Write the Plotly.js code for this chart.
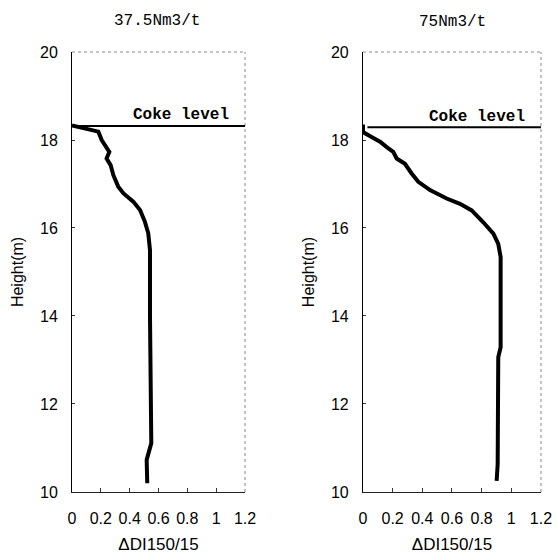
<!DOCTYPE html>
<html>
<head>
<meta charset="utf-8">
<script src="https://cdn.plot.ly/plotly-3.0.1.min.js"></script>
<style>html,body{margin:0;padding:0;background:#fff;}#chart{width:558px;height:558px;}</style>
</head>
<body>
<div id="chart"></div>
<script>
// Panel titles
const panelTitles = ["37.5Nm3/t", "75Nm3/t"];
// Left panel (37.5 Nm3/t): ΔDI150/15 vs height
const dDI_375 = [0.0, 0.183, 0.206, 0.24, 0.259, 0.24, 0.268, 0.287, 0.321, 0.356, 0.425, 0.472, 0.506, 0.529, 0.541, 0.541, 0.55, 0.518, 0.522];
const height_375 = [18.33, 18.19, 18.0, 17.81, 17.73, 17.58, 17.43, 17.2, 16.94, 16.79, 16.6, 16.41, 16.14, 15.88, 15.5, 14.0, 11.11, 10.73, 10.2];
// Right panel (75 Nm3/t)
const dDI_75 = [0.0, 0.0, 0.058, 0.115, 0.16, 0.204, 0.227, 0.283, 0.328, 0.373, 0.452, 0.564, 0.654, 0.733, 0.811, 0.879, 0.912, 0.928, 0.928, 0.912, 0.908, 0.901];
const height_75 = [18.35, 18.18, 18.07, 17.96, 17.84, 17.73, 17.58, 17.46, 17.24, 17.05, 16.86, 16.67, 16.55, 16.4, 16.13, 15.87, 15.64, 15.34, 13.29, 13.06, 10.63, 10.25];
// Coke level (m) and line extent
const cokeLevel_375 = 18.32;
const cokeLevel_75 = 18.29;
const cokeX_375 = [0.0, 1.2];
const cokeX_75 = [0.03, 1.2];
const cokeLabel = "Coke level";
// Axis ticks
const xTickVals = [0, 0.2, 0.4, 0.6, 0.8, 1.0, 1.2];
const xTickText = ["0", "0.2", "0.4", "0.6", "0.8", "1", "1.2"];
const yTickVals = [10, 12, 14, 16, 18, 20];
const yTickText = ["10", "12", "14", "16", "18", "20"];
const xTitle = "\u0394DI150/15";
const yTitle = "Height(m)";

const tickFont = {family: "Liberation Sans Narrow, Liberation Sans, Arial, sans-serif", size: 16, color: "#000"};
const monoFont = {family: "Liberation Mono, DejaVu Sans Mono, monospace", size: 16, color: "#000"};

const traces = [
  {x: dDI_375, y: height_375, xaxis: "x", yaxis: "y", mode: "lines", line: {color: "#000", width: 4}, hoverinfo: "skip"},
  {x: cokeX_375, y: [cokeLevel_375, cokeLevel_375], xaxis: "x", yaxis: "y", mode: "lines", line: {color: "#000", width: 2}, hoverinfo: "skip"},
  {x: dDI_75, y: height_75, xaxis: "x2", yaxis: "y2", mode: "lines", line: {color: "#000", width: 4}, hoverinfo: "skip"},
  {x: cokeX_75, y: [cokeLevel_75, cokeLevel_75], xaxis: "x2", yaxis: "y2", mode: "lines", line: {color: "#000", width: 2}, hoverinfo: "skip"}
];

function xAxis(domain, anchor) {
  return {
    domain: domain, anchor: anchor, range: [0, 1.2], fixedrange: true,
    tickmode: "array", tickvals: xTickVals, ticktext: xTickText,
    ticks: "inside", ticklen: 4, tickcolor: "#333", tickwidth: 1,
    ticklabelstandoff: 12,
    showgrid: false, zeroline: false,
    showline: true, linecolor: "#222", linewidth: 1,
    tickfont: tickFont,
    title: {text: xTitle, font: {family: tickFont.family, size: 17, color: "#000"}, standoff: 11}
  };
}
function yAxis(anchor) {
  return {
    domain: [0.1183, 0.9068], anchor: anchor, range: [10, 20], fixedrange: true,
    tickmode: "array", tickvals: yTickVals, ticktext: yTickText,
    ticks: "inside", ticklen: 3, tickcolor: "#333", tickwidth: 1,
    ticklabelstandoff: 10,
    showgrid: false, zeroline: false,
    showline: true, linecolor: "#000", linewidth: 1,
    tickfont: tickFont,
    title: {text: yTitle, font: {family: tickFont.family, size: 16, color: "#000"}, standoff: 12}
  };
}

function frame(xr, yr) {
  const dom = {xref: xr + " domain", yref: yr + " domain", type: "line", line: {color: "#888", width: 1, dash: "dot"}, layer: "below"};
  return [
    Object.assign({}, dom, {x0: 0, x1: 1, y0: 1, y1: 1}),
    Object.assign({}, dom, {x0: 1, x1: 1, y0: 0, y1: 1})
  ];
}

const layout = {
  width: 558, height: 558,
  margin: {l: 0, r: 0, t: 0, b: 0},
  paper_bgcolor: "#fff", plot_bgcolor: "#fff",
  showlegend: false,
  xaxis: xAxis([0.1290, 0.4391], "y"),
  yaxis: yAxis("x"),
  xaxis2: xAxis([0.6505, 0.9695], "y2"),
  yaxis2: yAxis("x2"),
  shapes: frame("x", "y").concat(frame("x2", "y2")),
  annotations: [
    {text: panelTitles[0], xref: "paper", yref: "paper", x: 157/558, y: 1 - 21/558, xanchor: "center", yanchor: "middle", showarrow: false, font: monoFont},
    {text: panelTitles[1], xref: "paper", yref: "paper", x: 453/558, y: 1 - 22/558, xanchor: "center", yanchor: "middle", showarrow: false, font: monoFont},
    {text: cokeLabel, xref: "x", yref: "y", x: 0.756, y: 18.57, xanchor: "center", yanchor: "middle", showarrow: false, font: Object.assign({}, monoFont, {weight: "bold"})},
    {text: cokeLabel, xref: "x2", yref: "y2", x: 0.772, y: 18.52, xanchor: "center", yanchor: "middle", showarrow: false, font: Object.assign({}, monoFont, {weight: "bold"})}
  ]
};

Plotly.newPlot("chart", traces, layout, {staticPlot: true, displayModeBar: false});
</script>
</body>
</html>
